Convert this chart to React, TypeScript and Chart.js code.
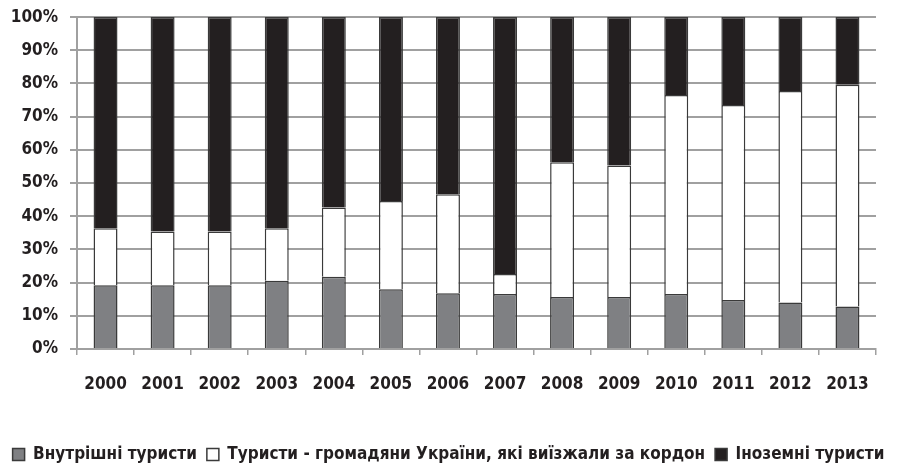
import React, { useEffect, useRef } from "react";
import { Chart, registerables } from "chart.js";

Chart.register(...registerables);

const years = ["2000", "2001", "2002", "2003", "2004", "2005", "2006", "2007", "2008", "2009", "2010", "2011", "2012", "2013"];
const domestic = [19.2, 19.2, 19.2, 20.6, 21.8, 18.0, 16.8, 16.6, 15.7, 15.7, 16.6, 14.8, 14.0, 12.8];
const outbound = [17.2, 16.2, 16.2, 15.8, 20.8, 26.6, 29.8, 6.0, 40.6, 39.6, 59.9, 58.7, 63.7, 66.8];
const foreign = [63.6, 64.6, 64.6, 63.6, 57.4, 55.4, 53.4, 77.4, 43.7, 44.7, 23.5, 26.5, 22.3, 20.4];
const seriesNames = [
  "Внутрішні туристи",
  "Туристи - громадяни України, які виїзжали за кордон",
  "Іноземні туристи",
];
const yTicks = [0, 10, 20, 30, 40, 50, 60, 70, 80, 90, 100];

const FONT = "'DejaVu Sans Condensed', 'Liberation Sans', sans-serif";

const legendShift = {
  id: "legendShift",
  afterLayout(chart: any) {
    const lg = chart.legend;
    if (lg) {
      lg.top += 10;
      lg.bottom += 10;
    }
  },
};

export default function App() {
  const ref = useRef<HTMLCanvasElement | null>(null);
  useEffect(() => {
    document.body.style.margin = "0";
    const canvas = ref.current;
    if (!canvas) return;
    const border = "#3a3a3a";
    const chart = new Chart(canvas, {
      type: "bar",
      data: {
        labels: years,
        datasets: [
          { label: seriesNames[0], data: domestic, backgroundColor: "#7f8083", borderColor: border, borderWidth: 1.5 },
          { label: seriesNames[1], data: outbound, backgroundColor: "#ffffff", borderColor: border, borderWidth: 1.5 },
          { label: seriesNames[2], data: foreign, backgroundColor: "#231f20", borderColor: border, borderWidth: 1.5 },
        ],
      },
      plugins: [legendShift],
      options: {
        animation: false,
        responsive: false,
        maintainAspectRatio: false,
        layout: { padding: { left: 0, right: 0, top: 6, bottom: 2 } },
        datasets: { bar: { barPercentage: 0.42, categoryPercentage: 1 } },
        plugins: {
          tooltip: { enabled: false },
          legend: {
            position: "bottom",
            labels: {
              font: { family: FONT, size: 17, weight: "bold" },
              color: "#231f20",
              boxWidth: 12,
              boxHeight: 12,
              padding: 10,
            },
          },
        },
        scales: {
          x: {
            stacked: true,
            grid: { display: true, drawOnChartArea: false, drawTicks: true, tickLength: 6, color: "#a0a0a0", lineWidth: 1.5 },
            border: { display: true, color: "#a0a0a0", width: 2 },
            ticks: { font: { family: FONT, size: 17, weight: "bold" }, color: "#231f20", padding: 19 },
            afterFit: (s: any) => { s.height = 77; },
          },
          y: {
            stacked: true,
            min: 0,
            max: 100,
            afterBuildTicks: (s: any) => { s.ticks = yTicks.map((v) => ({ value: v })); },
            grid: { color: "#a0a0a0", lineWidth: 2, tickLength: 7, drawTicks: true },
            border: { display: true, color: "#a0a0a0", width: 2 },
            ticks: {
              font: { family: FONT, size: 17, weight: "bold", lineHeight: 0.6 },
              color: "#231f20",
              padding: 12,
              callback: (v: any) => v + "%",
            },
            afterFit: (s: any) => { s.width = 77; },
          },
          yRight: {
            position: "right",
            display: true,
            grid: { display: false, drawTicks: false },
            border: { display: false },
            ticks: { display: false },
            afterFit: (s: any) => { s.width = 21; },
          },
        },
      },
    });
    return () => chart.destroy();
  }, []);
  return (
    <div style={{ width: 897, height: 465 }}>
      <canvas ref={ref} width={897} height={465} style={{ width: 897, height: 465 }} />
    </div>
  );
}
